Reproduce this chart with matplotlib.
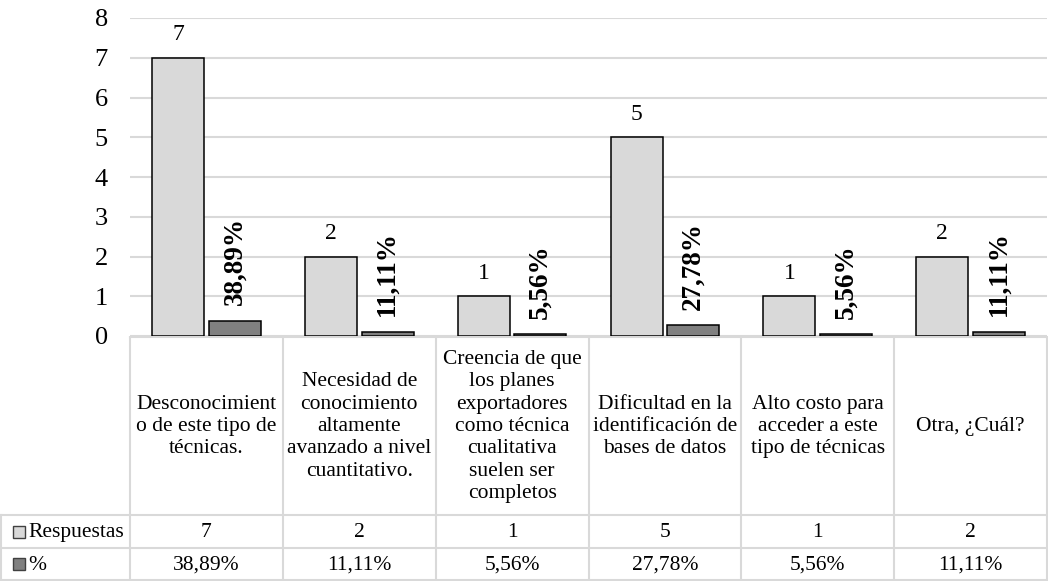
import matplotlib
matplotlib.use("Agg")
import matplotlib.pyplot as plt
from matplotlib.patches import Rectangle

plt.rcParams['font.family'] = ['Liberation Serif', 'DejaVu Serif']

categories = [
    "Desconocimient\no de este tipo de\ntécnicas.",
    "Necesidad de\nconocimiento\naltamente\navanzado a nivel\ncuantitativo.",
    "Creencia de que\nlos planes\nexportadores\ncomo técnica\ncualitativa\nsuelen ser\ncompletos",
    "Dificultad en la\nidentificación de\nbases de datos",
    "Alto costo para\nacceder a este\ntipo de técnicas",
    "Otra, ¿Cuál?",
]
respuestas = [7, 2, 1, 5, 1, 2]
porcentaje = [38.89, 11.11, 5.56, 27.78, 5.56, 11.11]
series_names = ["Respuestas", "%"]
yticks = [0, 1, 2, 3, 4, 5, 6, 7, 8]

LIGHT = "#d9d9d9"
DARK = "#808080"
GRID = "#d9d9d9"

W, H = 1048, 581
fig = plt.figure(figsize=(W / 100, H / 100), dpi=100)

# plot area in pixels
left_px, right_px, top_px, base_px = 130, 1047, 18, 336
ax = fig.add_axes([left_px / W, (H - base_px) / H, (right_px - left_px) / W, (base_px - top_px) / H])
n = len(categories)
ax.set_xlim(-0.5, n - 0.5)
ax.set_ylim(0, 8)
ax.set_yticks(yticks)
ax.set_yticklabels([str(v) for v in yticks], fontsize=19)
ax.tick_params(axis='y', length=0, pad=16)
ax.set_xticks([])
for s in ax.spines.values():
    s.set_visible(False)
ax.grid(axis='y', color=GRID, lw=1.5)
ax.set_axisbelow(True)

xs = list(range(n))
bw = 0.34
off = 0.185
pct_vals = [p / 100 for p in porcentaje]
ax.bar([x - off for x in xs], respuestas, width=bw, color=LIGHT, edgecolor='black', lw=1.1, zorder=3)
ax.bar([x + off for x in xs], pct_vals, width=bw, color=DARK, edgecolor='black', lw=1.1, zorder=3)
for x, v in zip(xs, respuestas):
    ax.annotate(str(v), (x - off, v), xytext=(0, 9), textcoords='offset points',
                ha='center', va='bottom', fontsize=17)
for x, p, v in zip(xs, porcentaje, pct_vals):
    ax.annotate(f"{p:.2f}%".replace('.', ','), (x + off, v), xytext=(0, 11), textcoords='offset points',
                ha='center', va='bottom', rotation=90, fontsize=19.5, fontweight='bold')

# data table axes (pixel-based y, category-based x)
cw = (right_px - left_px) / n
tax = fig.add_axes([0, 0, 1, (H - base_px) / H])
x0 = -0.5 - left_px / cw
x1 = -0.5 + (W - left_px) / cw
tax.set_xlim(x0, x1)
tax.set_ylim(H, base_px)
tax.axis('off')

row1, row2, row3 = 515, 548, 580
lw = 1.5
tax.plot([-0.5, n - 0.5], [base_px + 1, base_px + 1], color=GRID, lw=lw)
for yy in (row1, row2, row3):
    tax.plot([x0 + 1 / cw, n - 0.5], [yy, yy], color=GRID, lw=lw)
for k in range(n + 1):
    tax.plot([k - 0.5, k - 0.5], [base_px + 1, row3], color=GRID, lw=lw)
tax.plot([x0 + 1 / cw, x0 + 1 / cw], [row1, row3], color=GRID, lw=lw)

for x, c, r, p in zip(xs, categories, respuestas, porcentaje):
    tax.text(x, (base_px + row1) / 2 + 1, c, ha='center', va='center', fontsize=15.5, linespacing=1.24)
    tax.text(x, (row1 + row2) / 2 + 1, str(r), ha='center', va='center', fontsize=15.5)
    tax.text(x, (row2 + row3) / 2 + 1, f"{p:.2f}%".replace('.', ','), ha='center', va='center', fontsize=15.5)

# legend keys
key_x = x0 + 13 / cw
key_w = 12 / cw
for (yy0, yy1), col, name in zip([(row1, row2), (row2, row3)], [LIGHT, DARK], series_names):
    yc = (yy0 + yy1) / 2
    tax.add_patch(Rectangle((key_x, yc - 6), key_w, 12, facecolor=col, edgecolor='#404040', lw=1.0))
    tax.text(x0 + 28 / cw, yc + 1, name, ha='left', va='center', fontsize=15.5)

fig.savefig("out.png", dpi=100)
